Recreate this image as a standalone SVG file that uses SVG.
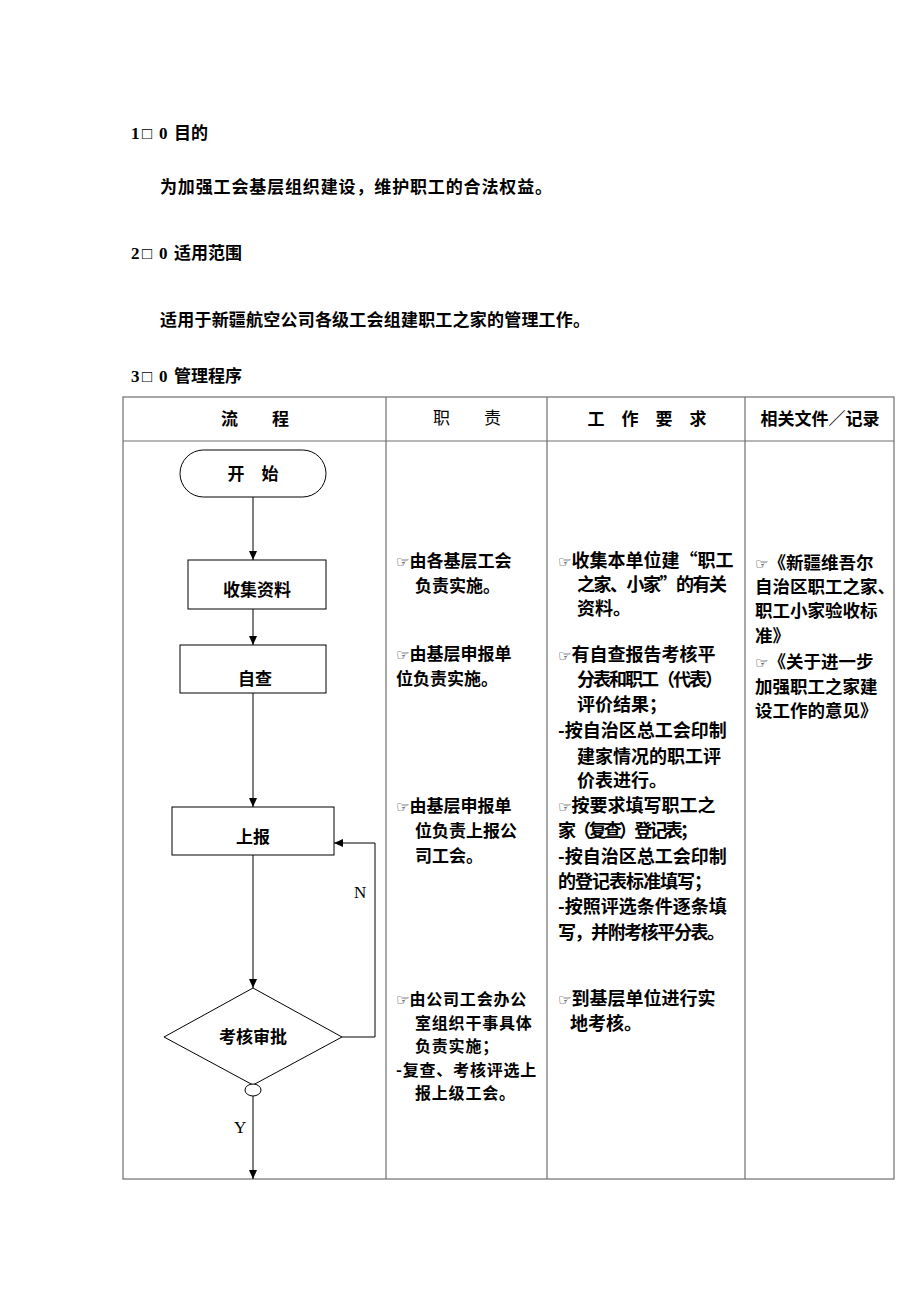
<svg xmlns="http://www.w3.org/2000/svg" width="920" height="1302" viewBox="0 0 920 1302">
<style>
.t{font-family:"Noto Sans CJK SC","Noto Sans",sans-serif;font-size:17px;font-weight:bold;fill:#000}
.c3{font-size:18px}
.c4{font-size:17.5px}
.sm{font-size:16px;letter-spacing:0.8px}
.n{font-weight:normal}
.p{font-family:"DejaVu Sans",sans-serif;font-size:15px;font-weight:normal;letter-spacing:0}
.h{font-family:"Liberation Serif","Noto Sans CJK SC",serif;font-size:17px;font-weight:bold;fill:#000}
.hz{font-family:"Noto Sans CJK SC",sans-serif}
.lat{font-family:"Liberation Serif",serif;font-size:17px;fill:#000}
.grid{stroke:#6e6e6e;stroke-width:1.2;fill:none}
.sh{fill:#fff;stroke:#000;stroke-width:1}
.ln{stroke:#000;stroke-width:1;fill:none}
</style>
<defs>
<marker id="ah" markerWidth="10" markerHeight="10" refX="9" refY="5" orient="auto" markerUnits="userSpaceOnUse">
<path d="M0,1 L9,5 L0,9 Z" fill="#000"/>
</marker>
</defs>
<rect width="920" height="1302" fill="#fff"/>

<g id="intro">
<text class="h" y="139"><tspan x="131">1</tspan><tspan x="142" font-weight="normal">□</tspan><tspan x="159">0</tspan><tspan class="hz" x="174">目的</tspan></text>
<text class="t" x="160" y="193" textLength="392">为加强工会基层组织建设，维护职工的合法权益。</text>
<text class="h" y="259"><tspan x="131">2</tspan><tspan x="142" font-weight="normal">□</tspan><tspan x="159">0</tspan><tspan class="hz" x="174">适用范围</tspan></text>
<text class="t" x="160" y="326" textLength="430">适用于新疆航空公司各级工会组建职工之家的管理工作。</text>
<text class="h" y="382"><tspan x="131">3</tspan><tspan x="142" font-weight="normal">□</tspan><tspan x="159">0</tspan><tspan class="hz" x="174">管理程序</tspan></text>
</g>

<g id="table">
<rect class="grid" x="123" y="397" width="771" height="782"/>
<line class="grid" x1="123" y1="441" x2="894" y2="441"/>
<line class="grid" x1="386" y1="397" x2="386" y2="1179"/>
<line class="grid" x1="547" y1="397" x2="547" y2="1179"/>
<line class="grid" x1="745" y1="397" x2="745" y2="1179"/>
<text class="t" x="255" y="425" text-anchor="middle">流　　程</text>
<text class="t n" x="467" y="424" text-anchor="middle">职　　责</text>
<text class="t" x="647" y="425" text-anchor="middle">工　作　要　求</text>
<text class="t" x="820" y="425" text-anchor="middle">相关文件／记录</text>
</g>

<g id="n_start">
<rect class="sh" x="180" y="450" width="146" height="47" rx="23.5" ry="23.5"/>
<text class="t" x="253" y="480" text-anchor="middle">开　始</text>
</g>
<g id="n_collect">
<rect class="sh" x="188" y="560" width="138" height="49"/>
<text class="t" x="257" y="596" text-anchor="middle">收集资料</text>
</g>
<g id="n_self">
<rect class="sh" x="180" y="645" width="146" height="48"/>
<text class="t" x="255" y="685" text-anchor="middle">自查</text>
</g>
<g id="n_report">
<rect class="sh" x="172" y="807" width="162" height="48"/>
<text class="t" x="253" y="843" text-anchor="middle">上报</text>
</g>
<g id="n_review">
<polygon class="sh" points="253,988 342,1037 253,1085 164,1037"/>
<text class="t" x="253" y="1043" text-anchor="middle">考核审批</text>
</g>
<g id="n_join">
<ellipse class="sh" cx="253" cy="1090" rx="8" ry="6"/>
</g>

<g id="connectors">
<line class="ln" x1="253" y1="497" x2="253" y2="560" marker-end="url(#ah)"/>
<line class="ln" x1="253" y1="609" x2="253" y2="645" marker-end="url(#ah)"/>
<line class="ln" x1="253" y1="693" x2="253" y2="807" marker-end="url(#ah)"/>
<line class="ln" x1="253" y1="855" x2="253" y2="988" marker-end="url(#ah)"/>
<polyline class="ln" points="342,1037 375,1037 375,843 334,843" marker-end="url(#ah)"/>
<line class="ln" x1="253" y1="1096" x2="253" y2="1179" marker-end="url(#ah)"/>
<text class="lat" x="354" y="898">N</text>
<text class="lat" x="234" y="1133">Y</text>
</g>

<g id="col_duty">
<text class="t" x="396" y="567"><tspan class="p">☞</tspan>由各基层工会</text>
<text class="t" x="415" y="592">负责实施。</text>
<text class="t" x="396" y="660"><tspan class="p">☞</tspan>由基层申报单</text>
<text class="t" x="396" y="685">位负责实施。</text>
<text class="t" x="396" y="812"><tspan class="p">☞</tspan>由基层申报单</text>
<text class="t" x="415" y="837">位负责上报公</text>
<text class="t" x="415" y="862">司工会。</text>
<text class="t sm" x="396" y="1005"><tspan class="p">☞</tspan>由公司工会办公</text>
<text class="t sm" x="415" y="1028.5">室组织干事具体</text>
<text class="t sm" x="415" y="1052">负责实施；</text>
<text class="t sm" x="396" y="1075.5">-复查、考核评选上</text>
<text class="t sm" x="415" y="1099">报上级工会。</text>
</g>

<g id="col_req">
<text class="t c3" x="558" y="567"><tspan class="p">☞</tspan>收集本单位建“职工</text>
<text class="t c3" x="577" y="591" textLength="150">之家、小家”的有关</text>
<text class="t c3" x="577" y="615">资料。</text>
<text class="t c3" x="558" y="661"><tspan class="p">☞</tspan>有自查报告考核平</text>
<text class="t c3" x="577" y="686" textLength="146">分表和职工（代表）</text>
<text class="t c3" x="577" y="711">评价结果；</text>
<text class="t c3" x="558" y="737">-按自治区总工会印制</text>
<text class="t c3" x="577" y="763">建家情况的职工评</text>
<text class="t c3" x="577" y="787">价表进行。</text>
<text class="t c3" x="558" y="812"><tspan class="p">☞</tspan>按要求填写职工之</text>
<text class="t c3" x="558" y="837" textLength="140">家（复查）登记表；</text>
<text class="t c3" x="558" y="863">-按自治区总工会印制</text>
<text class="t c3" x="558" y="888" textLength="154">的登记表标准填写；</text>
<text class="t c3" x="558" y="913">-按照评选条件逐条填</text>
<text class="t c3" x="558" y="939" textLength="167">写，并附考核平分表。</text>
<text class="t c3" x="558" y="1005"><tspan class="p">☞</tspan>到基层单位进行实</text>
<text class="t c3" x="570" y="1030">地考核。</text>
</g>

<g id="col_docs">
<text class="t c4" x="755" y="569"><tspan class="p">☞</tspan>《新疆维吾尔</text>
<text class="t c4" x="755" y="593">自治区职工之家、</text>
<text class="t c4" x="755" y="617">职工小家验收标</text>
<text class="t c4" x="755" y="642">准》</text>
<text class="t c4" x="755" y="668"><tspan class="p">☞</tspan>《关于进一步</text>
<text class="t c4" x="755" y="693">加强职工之家建</text>
<text class="t c4" x="755" y="717">设工作的意见》</text>
</g>
</svg>
